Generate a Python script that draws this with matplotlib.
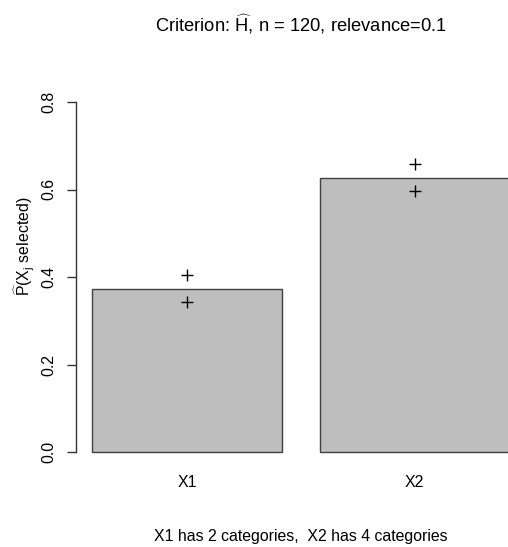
import matplotlib
matplotlib.use("Agg")
import matplotlib.pyplot as plt

plt.rcParams['font.family'] = ['Liberation Sans', 'DejaVu Sans']
plt.rcParams['mathtext.fontset'] = 'custom'
plt.rcParams['mathtext.rm'] = 'Liberation Sans'
plt.rcParams['mathtext.it'] = 'Liberation Sans'

# data
variables = ["X1", "X2"]
p_selected = [0.373, 0.627]
upper = [0.404, 0.658]
lower = [0.342, 0.597]
yticks = [0.0, 0.2, 0.4, 0.6, 0.8]
n_obs = 120
relevance = 0.1
n_categories = [2, 4]

fs = 11.4
W, H = 508, 547

fig = plt.figure(figsize=(W / 100, H / 100), dpi=100)
# R style barplot: width 1, space 0.2
pos = [0.2 + 0.5 + i * 1.2 for i in range(len(variables))]
ax = fig.add_axes([75.6 / W, (H - 466) / H, (526.3 - 75.6) / W, (466 - 88) / H])

ax.bar(pos, p_selected, width=1.0, color='#bebebe', edgecolor='#404040', linewidth=1.0)
ax.plot(pos, upper, '+', color='black', markersize=8.5, mew=1.0)
ax.plot(pos, lower, '+', color='black', markersize=8.5, mew=1.0)

ax.set_xlim(0.2 - 0.088, 2.4 + 0.088)
ax.set_ylim(-0.032, 0.832)

for s in ['top', 'right', 'bottom']:
    ax.spines[s].set_visible(False)
ax.spines['left'].set_bounds(0, 0.8)
ax.spines['left'].set_color('#333333')
ax.spines['left'].set_linewidth(1.0)

ax.set_yticks(yticks)
ax.set_yticklabels(["%.1f" % v for v in yticks], rotation=90, va='center', fontsize=fs)
ax.tick_params(axis='y', length=6.5, width=1.0, color='#333333', pad=7.5)

ax.set_xticks(pos)
ax.set_xticklabels(variables, fontsize=fs)
ax.tick_params(axis='x', length=0, pad=6.5)

fig.text(25 / W, (H - 246) / H, r'$\widehat{\mathrm{P}}(\mathrm{X}_{\mathrm{j}}$ selected)',
         rotation=90, ha='center', va='center', fontsize=fs)

cx = (75.6 + 526.3) / 2 / W
fig.text(cx, (H - 31) / H,
         r'Criterion: $\widehat{\mathrm{H}}$, n = %d, relevance=%s' % (n_obs, relevance),
         ha='center', va='baseline', fontsize=13.2)
fig.text(cx, (H - 541) / H,
         "%s has %d categories,  %s has %d categories" % (variables[0], n_categories[0],
                                                          variables[1], n_categories[1]),
         ha='center', va='baseline', fontsize=fs)

fig.savefig("out.png", dpi=100)
